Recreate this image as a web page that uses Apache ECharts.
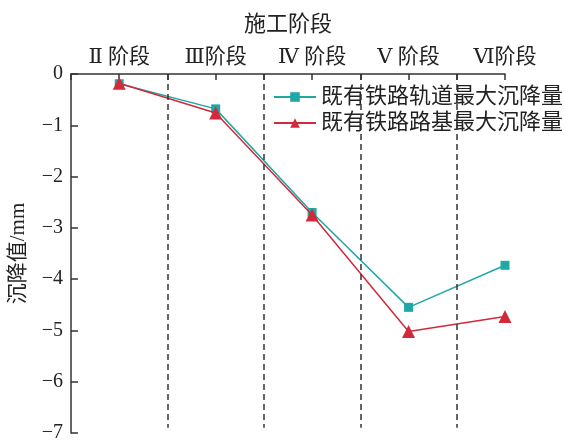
<!DOCTYPE html>
<html>
<head>
<meta charset="utf-8">
<script src="https://cdn.jsdelivr.net/npm/echarts@6/dist/echarts.min.js"></script>
<style>html,body{margin:0;padding:0;background:#fff;}#c{width:566px;height:443px;}</style>
</head>
<body>
<div id="c"></div>
<script>
var categories = ['Ⅱ 阶段', 'Ⅲ阶段', 'Ⅳ 阶段', 'Ⅴ 阶段', 'Ⅵ阶段'];
var seriesNames = ['既有铁路轨道最大沉降量', '既有铁路路基最大沉降量'];
var trackValues = [-0.19, -0.68, -2.70, -4.55, -3.73];
var subgradeValues = [-0.18, -0.76, -2.75, -5.02, -4.73];
var dividers = [1.5, 2.5, 3.5, 4.5];

var serif = '"Liberation Serif", "DejaVu Serif", "Noto Sans CJK SC", serif';
function toPoints(arr) { return arr.map(function (v, i) { return [i + 1, v]; }); }

var chart = echarts.init(document.getElementById('c'));
chart.setOption({
  animation: false,
  grid: { left: 70.5, right: 61, top: 74, bottom: 7 },
  legend: {
    orient: 'vertical', left: 268, top: 81,
    itemWidth: 42, itemHeight: 12, itemGap: 4,
    textStyle: { fontSize: 22, fontFamily: serif, color: '#222' },
    data: seriesNames
  },
  xAxis: {
    type: 'value', position: 'top', min: 0.5, max: 5, interval: 0.5,
    name: '施工阶段', nameLocation: 'middle', nameGap: 38,
    nameTextStyle: { fontSize: 22, fontFamily: serif, color: '#222' },
    axisLine: { show: true, lineStyle: { color: '#333', width: 1.5 } },
    axisTick: { show: true, inside: true, length: 6, lineStyle: { color: '#333', width: 1.5 } },
    axisLabel: {
      fontSize: 21, fontFamily: serif, color: '#222', margin: 6,
      formatter: function (v) {
        var i = Math.round(v);
        return Math.abs(v - i) < 1e-6 && i >= 1 && i <= categories.length ? categories[i - 1] : '';
      }
    },
    splitLine: { show: false }
  },
  yAxis: {
    type: 'value', min: -7, max: 0, interval: 1,
    name: '沉降值/mm', nameLocation: 'middle', nameGap: 42,
    nameTextStyle: { fontSize: 21, fontFamily: serif, color: '#222' },
    axisLine: { show: true, lineStyle: { color: '#333', width: 1.5 } },
    axisTick: { show: true, inside: true, length: 7, lineStyle: { color: '#333', width: 1.5 } },
    axisLabel: {
      fontSize: 20, fontFamily: serif, color: '#222', margin: 8,
      formatter: function (v) { return v < 0 ? '\u2212' + Math.abs(v) : String(v); }
    },
    splitLine: { show: false }
  },
  series: [
    {
      name: seriesNames[0], type: 'line', data: toPoints(trackValues),
      symbol: 'rect', symbolSize: 9, z: 3,
      itemStyle: { color: '#1fa8a6' }, lineStyle: { color: '#1fa8a6', width: 1.5 },
      markLine: {
        silent: true, symbol: 'none', animation: false,
        label: { show: false },
        lineStyle: { color: '#333', width: 1.5, type: [6, 4] },
        data: dividers.map(function (d) { return [{ coord: [d, 0] }, { coord: [d, -6.9] }]; })
      }
    },
    {
      name: seriesNames[1], type: 'line', data: toPoints(subgradeValues),
      symbol: 'triangle', symbolSize: 13, z: 4,
      itemStyle: { color: '#d3293a' }, lineStyle: { color: '#d3293a', width: 1.5 }
    }
  ]
});
</script>
</body>
</html>
